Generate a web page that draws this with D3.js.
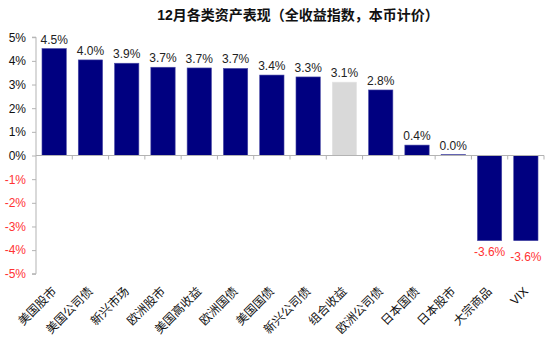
<!DOCTYPE html>
<html>
<head>
<meta charset="utf-8">
<script src="https://cdn.jsdelivr.net/npm/d3@7"></script>
<style>
  html, body { margin: 0; padding: 0; background: #fff; }
  svg { display: block; font-family: "Liberation Sans", Arial, "Noto Sans CJK SC", sans-serif; }
</style>
</head>
<body>
<svg id="chart" width="550" height="343"></svg>
<script>
const title = "12月各类资产表现（全收益指数，本币计价）";
const categories = ["美国股市", "美国公司债", "新兴市场", "欧洲股市", "美国高收益", "欧洲国债", "美国国债", "新兴公司债", "组合收益", "欧洲公司债", "日本国债", "日本股市", "大宗商品", "VIX"];
const values = [4.52, 4.04, 3.9, 3.73, 3.7, 3.68, 3.4, 3.32, 3.1, 2.77, 0.44, 0.04, -3.6, -3.6];
const highlight = ["组合收益"];
const yTicks = [5, 4, 3, 2, 1, 0, -1, -2, -3, -4, -5];

const svg = d3.select("#chart");
const navy = "#000080", grey = "#d9d9d9", red = "#ff3333", axisCol = "#b3b3b3";

const x = d3.scaleBand().domain(categories).range([36, 544]).paddingInner(0.33).paddingOuter(0.165);
const y = d3.scaleLinear().domain([-5, 5]).range([273.8, 37.2]);

// title
svg.append("text")
  .attr("x", 298).attr("y", 20)
  .attr("text-anchor", "middle")
  .attr("font-size", 14).attr("font-weight", "bold")
  .attr("fill", "#111")
  .text(title);

// y axis
const yAxis = svg.append("g")
  .attr("transform", "translate(36,0)")
  .call(d3.axisLeft(y).tickValues(yTicks).tickSize(4).tickPadding(6).tickFormat(d => d + "%"));
yAxis.select(".domain").attr("stroke", axisCol).attr("d", `M-4,${y(5)}H0V${y(-5)}H-4`);
yAxis.selectAll(".tick line").attr("stroke", axisCol);
yAxis.selectAll(".tick text")
  .attr("font-size", 12)
  .attr("font-family", "Liberation Sans, Arial, sans-serif")
  .attr("fill", d => d < 0 ? red : "#111");

// bars
const data = categories.map((c, i) => ({ c, v: values[i] }));
svg.append("g").selectAll("rect").data(data).join("rect")
  .attr("x", d => x(d.c))
  .attr("width", x.bandwidth())
  .attr("y", d => y(Math.max(0, d.v)))
  .attr("height", d => Math.abs(y(d.v) - y(0)))
  .attr("fill", d => highlight.includes(d.c) ? grey : navy)
  .attr("stroke", d => highlight.includes(d.c) ? "#e4e4e4" : "#4a4aa6")
  .attr("stroke-width", 0.6);

// x axis at zero with ticks at band boundaries
const step = x.step();
const x0 = x.range()[0];
const bounds = d3.range(categories.length + 1).map(i => x0 + i * step);
const xAxis = svg.append("g");
xAxis.append("line")
  .attr("x1", x0).attr("x2", bounds[bounds.length - 1])
  .attr("y1", y(0)).attr("y2", y(0))
  .attr("stroke", axisCol);
xAxis.selectAll("line.tk").data(bounds.slice(1)).join("line")
  .attr("class", "tk")
  .attr("x1", d => d).attr("x2", d => d)
  .attr("y1", y(0)).attr("y2", y(0) + 4)
  .attr("stroke", axisCol);

// value labels
svg.append("g").selectAll("text").data(data).join("text")
  .attr("x", d => x(d.c) + x.bandwidth() / 2)
  .attr("y", (d, i) => {
    if (d.v >= 0) return y(d.v) - 5;
    const prevNeg = i > 0 && data[i - 1].v < 0;
    return y(d.v) + 15 + (prevNeg ? 5.5 : 0);
  })
  .attr("text-anchor", "middle")
  .attr("font-size", 12)
  .attr("fill", d => d.v < 0 ? red : "#222")
  .text(d => d.v.toFixed(1) + "%");

// category labels
svg.append("g").selectAll("text").data(categories).join("text")
  .attr("transform", d => `translate(${x(d) + x.bandwidth() / 2 + 3},292) rotate(-45)`)
  .attr("text-anchor", "end")
  .attr("font-size", 12)
  .attr("fill", "#111")
  .text(d => d);
</script>
</body>
</html>
